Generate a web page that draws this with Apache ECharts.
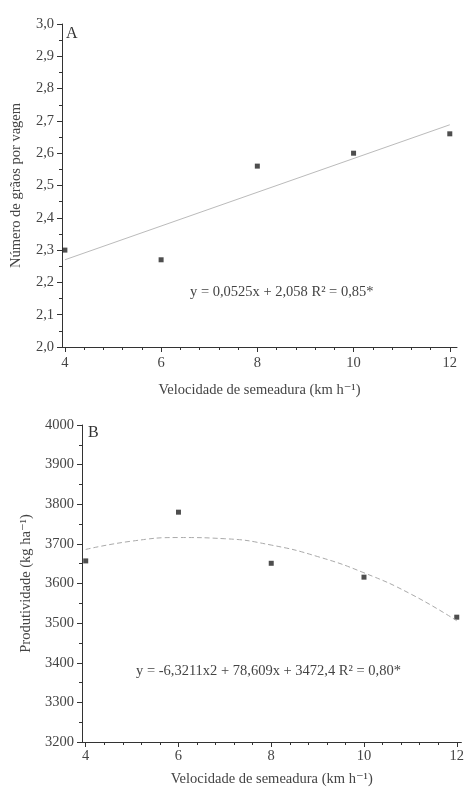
<!DOCTYPE html>
<html>
<head>
<meta charset="utf-8">
<script src="https://cdn.jsdelivr.net/npm/echarts@6/dist/echarts.min.js"></script>
<style>
  html, body { margin: 0; padding: 0; background: #fff; }
  #myChart { width: 467px; height: 794px; }
</style>
</head>
<body>
<div id="myChart"></div>
<script>
  // painel A - número de grãos por vagem
  const velA = [4, 6, 8, 10, 12];
  const graosA = [2.30, 2.27, 2.56, 2.60, 2.66];
  const retaA = [[4, 2.27], [12, 2.688]];
  // painel B - produtividade
  const velB = [4, 6, 8, 10, 12];
  const prodB = [3657, 3780, 3651, 3616, 3515];
  const curvaB = [[4, 3686], [5, 3707], [6, 3716], [7, 3713], [8, 3697], [9, 3668], [10, 3627], [11, 3574], [12, 3506]];
  // ticks
  const xTicks = [4, 6, 8, 10, 12];
  const xMinor = [];
  for (let v = 4; v <= 12.001; v += 0.4) xMinor.push(+v.toFixed(1));

  const serif = '"Liberation Serif", "DejaVu Serif", serif';
  const txt = '#444';
  const axisCol = '#333';

  function xAxes(grid, min, max, name, gap, margin) {
    return [{
      gridIndex: grid, type: 'value', position: 'bottom', min: min, max: max,
      name: name, nameLocation: 'middle', nameGap: gap,
      nameTextStyle: { fontFamily: serif, fontSize: 14.5, color: txt },
      axisLine: { lineStyle: { color: axisCol, width: 1 } },
      axisTick: { customValues: xTicks, length: 5, lineStyle: { color: axisCol } },
      axisLabel: { customValues: xTicks, fontFamily: serif, fontSize: 14.5, color: txt, margin: margin },
      splitLine: { show: false }
    }, {
      gridIndex: grid, type: 'value', position: 'bottom', min: min, max: max,
      axisLine: { show: false },
      axisTick: { customValues: xMinor, length: 3, lineStyle: { color: axisCol } },
      axisLabel: { show: false },
      splitLine: { show: false }
    }];
  }

  function yAxis(grid, min, max, interval, name, gap, fmt) {
    return {
      gridIndex: grid, type: 'value', min: min, max: max, interval: interval,
      name: name, nameLocation: 'middle', nameGap: gap,
      nameTextStyle: { fontFamily: serif, fontSize: 14.5, color: txt },
      axisLine: { show: true, lineStyle: { color: axisCol, width: 1 } },
      axisTick: { show: true, length: 5, lineStyle: { color: axisCol } },
      minorTick: { show: true, splitNumber: 2, length: 3, lineStyle: { color: axisCol } },
      axisLabel: { fontFamily: serif, fontSize: 14.5, color: txt, margin: 8, formatter: fmt },
      splitLine: { show: false }
    };
  }

  const chart = echarts.init(document.getElementById('myChart'));
  const option = {
    backgroundColor: '#fff',
    animation: false,
    grid: [
      { left: 62, top: 24, width: 395, height: 323 },
      { left: 82, top: 425, width: 385, height: 317 }
    ],
    xAxis: [].concat(
      xAxes(0, 3.94, 12.15, 'Velocidade de semeadura (km h\u207B\u00B9)', 36, 9),
      xAxes(1, 3.92, 12.1, 'Velocidade de semeadura (km h\u207B\u00B9)', 30, 7)
    ),
    yAxis: [
      yAxis(0, 2.0, 3.0, 0.1, 'Número de grãos por vagem', 38, v => v.toFixed(1).replace('.', ',')),
      yAxis(1, 3200, 4000, 100, 'Produtividade (kg ha\u207B\u00B9)', 48, v => String(v))
    ],
    graphic: [
      { type: 'text', left: 66, top: 26, style: { text: 'A', font: '16px ' + serif, fill: '#333' } },
      { type: 'text', left: 88, top: 425, style: { text: 'B', font: '16px ' + serif, fill: '#333' } },
      { type: 'text', left: 190, top: 285, style: { text: 'y = 0,0525x + 2,058 R\u00B2 = 0,85*', font: '14.5px ' + serif, fill: txt } },
      { type: 'text', left: 136, top: 664, style: { text: 'y = -6,3211x2 + 78,609x + 3472,4 R\u00B2 = 0,80*', font: '14.5px ' + serif, fill: txt } }
    ],
    series: [
      {
        type: 'line', xAxisIndex: 0, yAxisIndex: 0, data: retaA,
        symbol: 'none', lineStyle: { color: '#bbb', width: 1 }
      },
      {
        type: 'scatter', xAxisIndex: 0, yAxisIndex: 0,
        data: velA.map((x, i) => [x, graosA[i]]),
        symbol: 'rect', symbolSize: 5, itemStyle: { color: '#222' }
      },
      {
        type: 'line', xAxisIndex: 2, yAxisIndex: 1, data: curvaB, smooth: true,
        symbol: 'none', lineStyle: { color: '#aaa', width: 1, type: [5, 3] }
      },
      {
        type: 'scatter', xAxisIndex: 2, yAxisIndex: 1,
        data: velB.map((x, i) => [x, prodB[i]]),
        symbol: 'rect', symbolSize: 5, itemStyle: { color: '#222' }
      }
    ]
  };
  chart.setOption(option);
</script>
</body>
</html>
